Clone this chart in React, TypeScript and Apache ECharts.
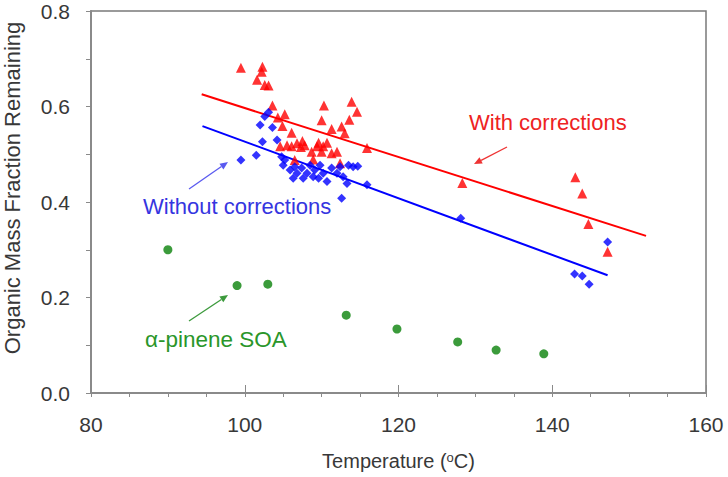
import React, { useEffect, useRef } from "react";
import * as echarts from "echarts";

// Temperatures (°C) and organic mass fraction remaining, with corrections
const withCorrTemp = [
  99.5, 102.3, 102.2, 101.6, 102.6, 103.1, 103.6, 104.3, 105.2, 104.9, 106.1,
  110.3, 110.0, 111.3, 112.6, 113.9, 114.6, 113.6, 113.0, 104.6, 105.5, 106.1,
  106.8, 107.5, 107.8, 107.3, 108.7, 109.4, 109.6, 110.2, 110.7, 110.0, 112.0,
  111.3, 106.5, 108.9, 112.4, 115.9, 128.3, 143.0, 143.9, 144.7, 147.2,
];
const withCorrFrac = [
  0.681, 0.683, 0.673, 0.656, 0.645, 0.644, 0.602, 0.577, 0.584, 0.559, 0.545,
  0.602, 0.571, 0.553, 0.558, 0.61, 0.589, 0.572, 0.544, 0.517, 0.519, 0.517,
  0.523, 0.528, 0.519, 0.515, 0.505, 0.517, 0.524, 0.517, 0.524, 0.505, 0.505,
  0.502, 0.488, 0.489, 0.481, 0.513, 0.44, 0.452, 0.418, 0.354, 0.296,
];

// Without corrections
const noCorrTemp = [
  99.5, 101.5, 102.3, 102.0, 102.6, 103.1, 103.6, 104.2, 104.8, 105.2, 105.0,
  105.9, 106.3, 106.8, 107.4, 108.1, 108.5, 109.1, 109.8, 110.2, 110.7, 111.3,
  112.0, 112.4, 112.8, 113.5, 114.1, 113.3, 112.6, 106.5, 107.6, 108.9, 109.6,
  115.9, 114.7, 128.1, 142.9, 143.9, 144.8, 147.2,
];
const noCorrFrac = [
  0.488, 0.498, 0.526, 0.561, 0.579, 0.588, 0.556, 0.53, 0.495, 0.488, 0.477,
  0.467, 0.45, 0.46, 0.471, 0.46, 0.477, 0.467, 0.477, 0.46, 0.443, 0.471,
  0.46, 0.474, 0.453, 0.477, 0.474, 0.439, 0.408, 0.474, 0.45, 0.453, 0.45,
  0.436, 0.475, 0.366, 0.249, 0.245, 0.228, 0.316,
];

// α-pinene SOA
const pineneTemp = [90.0, 99.0, 103.0, 113.2, 119.8, 127.7, 132.7, 138.9];
const pineneFrac = [0.3, 0.225, 0.228, 0.163, 0.134, 0.107, 0.09, 0.082];

// Linear fit end points [temperature, fraction]
const withCorrFit = [
  [94.4, 0.6255],
  [152.2, 0.329],
];
const noCorrFit = [
  [94.5, 0.559],
  [147.2, 0.2465],
];

const xTicks = { min: 80, max: 160, step: 20 };
const yTicks = { min: 0, max: 0.8, step: 0.2 };

const FONT = "'Liberation Sans', Arial, sans-serif";
const AXIS_GRAY = "#8a8a8a";
const TEXT_GRAY = "#383838";

const zip = (xs: number[], ys: number[]) => xs.map((x, i) => [x, ys[i]]);

// Thin annotation arrow: shaft plus a filled head at (x2, y2)
function arrow(x1: number, y1: number, x2: number, y2: number, color: string) {
  const dx = x2 - x1;
  const dy = y2 - y1;
  const len = Math.hypot(dx, dy);
  const ux = dx / len;
  const uy = dy / len;
  const hl = 8;
  const hw = 3.5;
  const bx = x2 - ux * hl;
  const by = y2 - uy * hl;
  return [
    {
      type: "line",
      shape: { x1, y1, x2: bx, y2: by },
      style: { stroke: color, lineWidth: 1.3 },
      silent: true,
    },
    {
      type: "polygon",
      shape: {
        points: [
          [x2, y2],
          [bx - uy * hw, by + ux * hw],
          [bx + uy * hw, by - ux * hw],
        ],
      },
      style: { fill: color },
      silent: true,
    },
  ];
}

export default function App() {
  const ref = useRef<HTMLDivElement>(null);

  useEffect(() => {
    if (!ref.current) return;
    const chart = echarts.init(ref.current, null, { renderer: "svg" });

    const tickLine = { color: AXIS_GRAY, width: 1 };

    chart.setOption({
      animation: false,
      backgroundColor: "#ffffff",
      textStyle: { fontFamily: FONT },
      grid: {
        left: 91,
        right: 22,
        top: 11,
        bottom: 84,
        show: true,
        borderColor: "#7a7a7a",
        borderWidth: 1.5,
        backgroundColor: "transparent",
      },
      xAxis: [
        {
          type: "value",
          min: xTicks.min,
          max: xTicks.max,
          interval: xTicks.step,
          axisLine: { show: true, lineStyle: { color: AXIS_GRAY, width: 2 } },
          axisTick: { show: true, length: 4, lineStyle: tickLine },
          minorTick: { show: true, splitNumber: 4, length: 4, lineStyle: tickLine },
          splitLine: { show: false },
          axisLabel: { fontSize: 21, color: TEXT_GRAY, margin: 21, fontFamily: FONT },
          name: "Temperature ({sup|o}C)",
          nameLocation: "middle",
          nameGap: 58,
          nameTextStyle: {
            fontSize: 20,
            color: TEXT_GRAY,
            fontFamily: FONT,
            rich: {
              sup: { fontSize: 13, verticalAlign: "top", color: TEXT_GRAY, fontFamily: FONT },
            },
          },
        },
        {
          type: "value",
          min: xTicks.min,
          max: xTicks.max,
          interval: xTicks.step,
          position: "bottom",
          axisLine: { show: false },
          axisTick: { show: true, inside: true, length: 8, lineStyle: tickLine },
          axisLabel: { show: false },
          splitLine: { show: false },
        },
      ],
      yAxis: {
        type: "value",
        min: yTicks.min,
        max: yTicks.max,
        interval: yTicks.step,
        axisLine: { show: true, lineStyle: { color: AXIS_GRAY, width: 2 } },
        axisTick: { show: true, length: 5, lineStyle: tickLine },
        minorTick: { show: true, splitNumber: 2, length: 5, lineStyle: tickLine },
        splitLine: { show: false },
        axisLabel: {
          fontSize: 21,
          color: TEXT_GRAY,
          margin: 21,
          fontFamily: FONT,
          formatter: (v: number) => v.toFixed(1),
        },
      },
      series: [
        {
          name: "With corrections fit",
          type: "line",
          data: withCorrFit,
          symbol: "none",
          lineStyle: { color: "#ff0000", width: 2 },
          z: 2,
        },
        {
          name: "Without corrections fit",
          type: "line",
          data: noCorrFit,
          symbol: "none",
          lineStyle: { color: "#0000ff", width: 2 },
          z: 2,
        },
        {
          name: "With corrections",
          type: "scatter",
          data: zip(withCorrTemp, withCorrFrac),
          symbol: "triangle",
          symbolSize: 10,
          itemStyle: { color: "#ff0000" },
          z: 3,
        },
        {
          name: "Without corrections",
          type: "scatter",
          data: zip(noCorrTemp, noCorrFrac),
          symbol: "diamond",
          symbolSize: 9,
          itemStyle: { color: "#0000ff" },
          z: 4,
        },
        {
          name: "α-pinene SOA",
          type: "scatter",
          data: zip(pineneTemp, pineneFrac),
          symbol: "circle",
          symbolSize: 9,
          itemStyle: { color: "#0a820a" },
          z: 4,
        },
      ],
      graphic: [
        {
          type: "text",
          x: 12,
          y: 188,
          rotation: Math.PI / 2,
          style: {
            text: "Organic Mass Fraction Remaining",
            font: `22px ${FONT}`,
            fill: TEXT_GRAY,
            align: "center",
            verticalAlign: "middle",
          },
        },
        {
          type: "text",
          x: 469,
          y: 122,
          style: {
            text: "With corrections",
            font: `22px ${FONT}`,
            fill: "#ee2222",
            align: "left",
            verticalAlign: "middle",
          },
        },
        ...arrow(507, 147, 474, 164, "#ee3333"),
        {
          type: "text",
          x: 143,
          y: 206,
          style: {
            text: "Without corrections",
            font: `22px ${FONT}`,
            fill: "#3535e0",
            align: "left",
            verticalAlign: "middle",
          },
        },
        ...arrow(189, 189, 228, 162, "#5a5af0"),
        {
          type: "text",
          x: 145,
          y: 339,
          style: {
            text: "α-pinene SOA",
            font: `22.5px ${FONT}`,
            fill: "#2a962a",
            align: "left",
            verticalAlign: "middle",
          },
        },
        ...arrow(189, 321, 228, 295, "#3c9a3c"),
      ],
    });

    return () => chart.dispose();
  }, []);

  return (
    <div
      ref={ref}
      style={{ position: "absolute", left: 0, top: 0, width: 728, height: 477 }}
    />
  );
}
